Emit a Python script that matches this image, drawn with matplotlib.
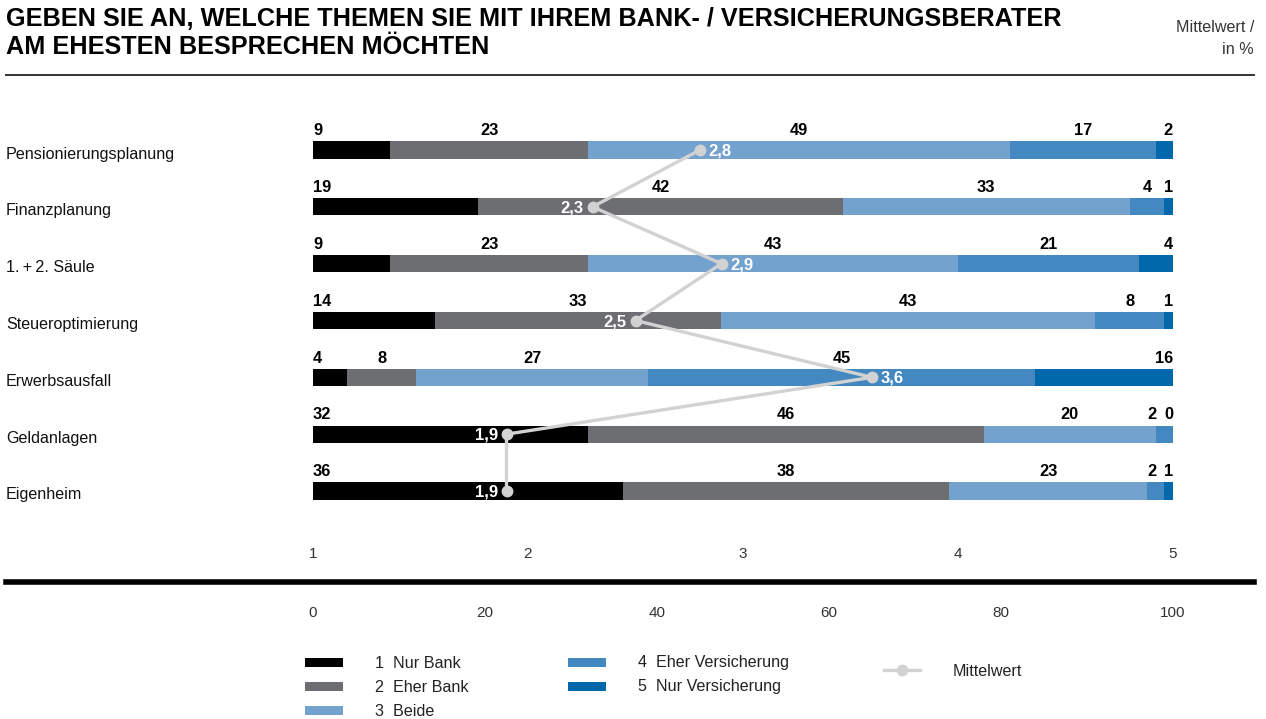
import numpy as np
import matplotlib
matplotlib.use("Agg")
import matplotlib.pyplot as plt
from matplotlib.lines import Line2D
from matplotlib.patches import Rectangle
from matplotlib.transforms import blended_transform_factory

plt.rcParams['font.family'] = ['Liberation Sans', 'DejaVu Sans']

topics = ["Pensionierungsplanung", "Finanzplanung", "1.\u2009+\u20092. Säule", "Steueroptimierung",
          "Erwerbsausfall", "Geldanlagen", "Eigenheim"]
legend_names = ["1  Nur Bank", "2  Eher Bank", "3  Beide", "4  Eher Versicherung", "5  Nur Versicherung"]
nur_bank = [9, 19, 9, 14, 4, 32, 36]
eher_bank = [23, 42, 23, 33, 8, 46, 38]
beide = [49, 33, 43, 43, 27, 20, 23]
eher_vers = [17, 4, 21, 8, 45, 2, 2]
nur_vers = [2, 1, 4, 1, 16, 0, 1]
mittelwert = [2.8, 2.3, 2.9, 2.5, 3.6, 1.9, 1.9]
scale_ticks = [1, 2, 3, 4, 5]
pct_ticks = [0, 20, 40, 60, 80, 100]

colors = ["#000000", "#6d6e71", "#74a2cf", "#4388c0", "#0068ab"]
line_col = "#d2d2d2"

W, H = 1266, 719
fig = plt.figure(figsize=(W / 100, H / 100), dpi=100)

# axes in pixel terms: x 313..1173, rows at 150..491
row_top, row_bot = 150 - 56.83 * 0.5, 491 + 56.83 * 0.5
ax = fig.add_axes([313 / W, 1 - row_bot / H, 860 / W, (row_bot - row_top) / H])
ax.set_xlim(0, 100)
ax.set_ylim(6.5, -0.5)
ax.axis("off")

data = np.array([nur_bank, eher_bank, beide, eher_vers, nur_vers], dtype=float)
# normalise rows to 100 for drawing
data_n = data / data.sum(axis=0) * 100
y = np.arange(len(topics))
bh = 0.3
left = np.zeros(len(topics))
for k in range(5):
    ax.barh(y, data_n[k], left=left, height=bh, color=colors[k], linewidth=0)
    left += data_n[k]

# value labels above bars
for i in range(len(topics)):
    starts = np.concatenate([[0], np.cumsum(data_n[:, i])[:-1]])
    ends = np.cumsum(data_n[:, i])
    pos = []
    has = []
    for k in range(5):
        if k == 0:
            pos.append(starts[k]); has.append("left")
        elif k == 4:
            pos.append(100); has.append("right")
        else:
            pos.append((starts[k] + ends[k]) / 2); has.append("center")
    # keep small labels from colliding near the right end
    limit = 100 - 1.2
    for k in range(3, 0, -1):
        if pos[k] > limit - 1.2:
            pos[k] = limit - 1.2
        limit = pos[k] - 1.2
    for k in range(5):
        ax.text(pos[k], i - 0.34, str(int(data[k, i])), ha=has[k], va="center",
                fontsize=11.8, fontweight="bold", color="#000000")

# mean line
mx = [(m - 1) / 4 * 100 for m in mittelwert]
ax.plot(mx, y, color=line_col, lw=2.4, marker="o", ms=7.5, zorder=5, clip_on=False)
for i, m in enumerate(mittelwert):
    nb = [mittelwert[j] for j in (i - 1, i + 1) if 0 <= j < len(mittelwert)]
    right = m > np.mean(nb)
    lab = f"{m:.1f}".replace(".", ",")
    if right:
        ax.text(mx[i] + 1.0, i + 0.02, lab, ha="left", va="center", fontsize=12,
                fontweight="bold", color="white", zorder=6)
    else:
        ax.text(mx[i] - 1.0, i + 0.02, lab, ha="right", va="center", fontsize=12,
                fontweight="bold", color="white", zorder=6)

# category labels
for i, t in enumerate(topics):
    fig.text(6 / W, 1 - (150 + 56.83 * i + 4) / H, t, ha="left", va="center", fontsize=11.6, color="#111111")

# scales
tr = blended_transform_factory(ax.transData, fig.transFigure)
for s in scale_ticks:
    ax.text((s - 1) / 4 * 100, 1 - 554 / H, str(s), transform=tr, ha="center", va="center",
            fontsize=11, color="#333333")
for p in pct_ticks:
    ax.text(p, 1 - 613 / H, str(p), transform=tr, ha="center", va="center",
            fontsize=11, color="#333333")

fig.add_artist(Line2D([6 / W, 1254 / W], [1 - 582 / H] * 2, color="#000000", lw=4, transform=fig.transFigure))
fig.add_artist(Line2D([6 / W, 1254 / W], [1 - 74.5 / H] * 2, color="#333333", lw=1.4, transform=fig.transFigure))

# title
fig.text(6 / W, 1 - 19 / H, "GEBEN SIE AN, WELCHE THEMEN SIE MIT IHREM BANK- / VERSICHERUNGSBERATER",
         ha="left", va="center", fontsize=18.2, fontweight="bold")
fig.text(6 / W, 1 - 47 / H, "AM EHESTEN BESPRECHEN MÖCHTEN", ha="left", va="center",
         fontsize=18.2, fontweight="bold")
fig.text(1254 / W, 1 - 27 / H, "Mittelwert /", ha="right", va="center", fontsize=11.6, color="#333333")
fig.text(1254 / W, 1 - 50 / H, "in %", ha="right", va="center", fontsize=11.6, color="#333333")

# legend
leg_pos = [(305, 662), (305, 686), (305, 710), (568, 662), (568, 686)]
for k, (lx, ly) in enumerate(leg_pos):
    fig.add_artist(Rectangle(((lx) / W, 1 - (ly + 4.5) / H), 38 / W, 9 / H, color=colors[k],
                             transform=fig.transFigure, lw=0))
    fig.text((lx + 70) / W, 1 - (ly + 1) / H, legend_names[k], ha="left", va="center", fontsize=11.6, color="#222222")
fig.add_artist(Line2D([884 / W, 920 / W], [1 - 670 / H] * 2, color=line_col, lw=2.4,
                      transform=fig.transFigure))
fig.add_artist(Line2D([902 / W], [1 - 670 / H], color=line_col, marker="o", ms=7.5, lw=0,
                      transform=fig.transFigure))
fig.text(953 / W, 1 - 671 / H, "Mittelwert", ha="left", va="center", fontsize=11.6, color="#222222")

fig.savefig("out.png", dpi=100)
